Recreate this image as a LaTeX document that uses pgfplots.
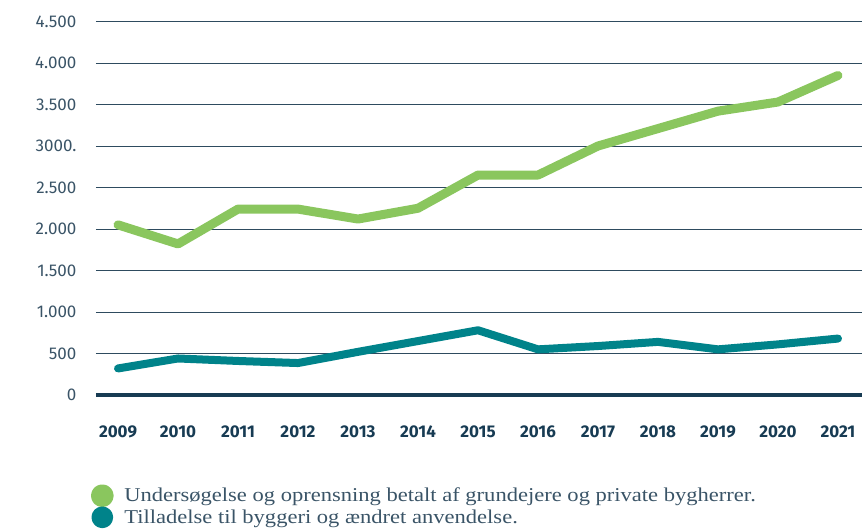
\documentclass[border=0pt]{standalone}
\usepackage{fontspec}
\setmainfont{Fira Sans}
\newfontfamily\legfont[FakeStretch=1.15]{Liberation Serif}
\usepackage{pgfplots}
\pgfplotsset{compat=1.18}
\definecolor{lightgreen}{HTML}{8AC65E}
\definecolor{tealc}{HTML}{00838A}
\definecolor{navy}{HTML}{173B53}
\definecolor{gridc}{HTML}{2E4B5F}
\definecolor{labc}{HTML}{3A5467}

\pgfplotstableread{
year green teal
2009 2050 320
2010 1820 440
2011 2240 410
2012 2240 385
2013 2120 520
2014 2250 650
2015 2650 780
2016 2650 550
2017 3000 590
2018 3210 640
2019 3420 550
2020 3530 610
2021 3850 680
}\datatable

\begin{document}
\begin{tikzpicture}
\path[use as bounding box] (-96pt,-135pt) rectangle (766pt,395pt);
\begin{axis}[
  scale only axis, width=766pt, height=373.5pt,
  xmin=2008.633, xmax=2021.4, ymin=0, ymax=4500,
  axis line style={draw=none}, major tick length=0pt,
  ymajorgrids, grid style={gridc, line width=0.9pt},
  xtick={2009,...,2021},
  xticklabels={2009,2010,2011,2012,2013,2014,2015,2016,2017,2018,2019,2020,2021},
  ytick={500,1000,...,4500},
  yticklabels={500,1.000,1.500,2.000,2.500,3000.,3.500,4.000,4.500},
  extra y ticks={0}, extra y tick labels={0},
  extra y tick style={grid style={navy, line width=4pt}},
  y tick label style={font=\fontsize{17}{19}\selectfont, text=labc, xshift=-16pt},
  x tick label style={font=\bfseries\fontsize{17}{19}\selectfont, text=navy, yshift=-27pt},
  legend style={at={(-0.0107,-0.2335)}, anchor=north west, draw=none, fill=none,
    font=\legfont\fontsize{19.6}{20}\selectfont, text=labc, row sep=-0.5pt},
  legend cell align=left,
  legend image code/.code={\fill[#1] (0pt,0pt) circle (6.8pt);
    \path[draw=none, fill=none, line width=0pt] (0pt,0pt) rectangle (20pt,0pt);},
]
\addplot[lightgreen, line width=9pt, line cap=round, line join=round] table[x=year, y=green] {\datatable};
\addlegendentry{Undersøgelse og oprensning betalt af grundejere og private bygherrer.}
\addplot[tealc, line width=8pt, line cap=round, line join=round] table[x=year, y=teal] {\datatable};
\addlegendentry{Tilladelse til byggeri og ændret anvendelse.}
\end{axis}
\end{tikzpicture}
\end{document}
